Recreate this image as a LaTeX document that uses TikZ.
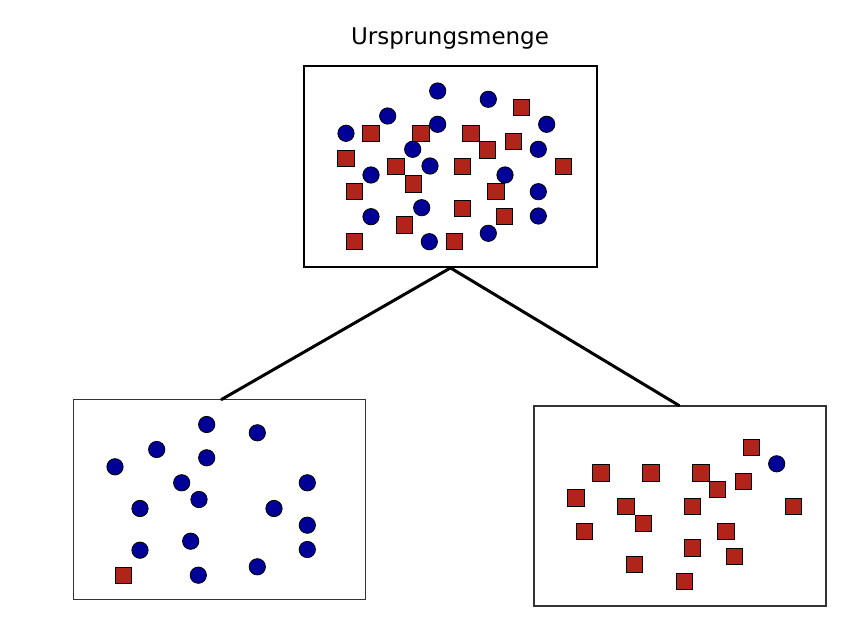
\documentclass[tikz,border=0pt]{standalone}
\usepackage{fontspec}
\setmainfont{DejaVu Sans}
\definecolor{dotblue}{RGB}{0,0,153}
\definecolor{sqred}{RGB}{176,36,26}
\tikzset{
  dot/.style={circle, draw=black, fill=dotblue, minimum size=16.3pt, inner sep=0pt, line width=0.8pt},
  sq/.style={rectangle, draw=black, fill=sqred, minimum size=16.3pt, inner sep=0pt, line width=0.8pt},
  bigbox/.style={rectangle, draw=black, line width=1.8pt, inner sep=0pt},
  subbox/.style={rectangle, draw=black!80, line width=1.1pt, inner sep=0pt},
  link/.style={line width=3pt, line cap=round}
}
% shapes shared between the top box and one lower box
\def\circlesCommon{437.7/91, 488.3/99.3, 387.7/116, 437.7/124.3, 346/133.3, 412.7/149.3, 538.3/149.3, 430/166, 371/175, 505/175, 538.3/191.7, 421.7/207.7, 371/216.7, 538.3/216, 488.3/233.3, 429.3/241.7}
\def\squaresCommon{521.7/107.7, 371/133.3, 421/133.3, 471/133.3, 513.3/141.7, 487.7/150, 346/158.3, 396/166.7, 462.7/166.7, 563.3/166.7, 354.3/191.7, 413.3/184, 496/191.7, 462.7/208.3, 504.3/216.7, 404.3/225, 454.3/241.7}
\begin{document}
\begin{tikzpicture}[x=1pt,y=-1pt]
\useasboundingbox (0,0) rectangle (846,620);
% title
\node[anchor=base, font=\fontsize{23}{27}\selectfont] (title) at (450,44.5) {Ursprungsmenge};
% boxes
\node[bigbox, minimum width=293pt, minimum height=201pt] (top) at (450.5,166.5) {};
\node[subbox, minimum width=292pt, minimum height=200pt] (left) at (219.5,499.5) {};
\node[subbox, minimum width=292pt, minimum height=200pt] (right) at (680,506) {};
% top set
\foreach \x/\y [count=\i] in \squaresCommon \node[sq] (ts\i) at (\x,\y) {};
\node[sq] (tsx) at (354.3,241.7) {};
\foreach \x/\y [count=\i] in \circlesCommon \node[dot] (tc\i) at (\x,\y) {};
\node[dot] (tcx) at (546.7,124.3) {};
% left subset
\begin{scope}[shift={(-231,333.5)}]
  \node[sq] (lsx) at (354.3,241.7) {};
  \foreach \x/\y [count=\i] in \circlesCommon \node[dot] (lc\i) at (\x,\y) {};
\end{scope}
% right subset
\begin{scope}[shift={(230,339.5)}]
  \foreach \x/\y [count=\i] in \squaresCommon \node[sq] (rs\i) at (\x,\y) {};
  \node[dot] (rcx) at (546.7,124.3) {};
\end{scope}
% connectors
\coordinate (lend) at (221.5,399.5);
\coordinate (rend) at (679,405.5);
\draw[link] (top.south) -- (lend);
\draw[link] (top.south) -- (rend);
\end{tikzpicture}
\end{document}
